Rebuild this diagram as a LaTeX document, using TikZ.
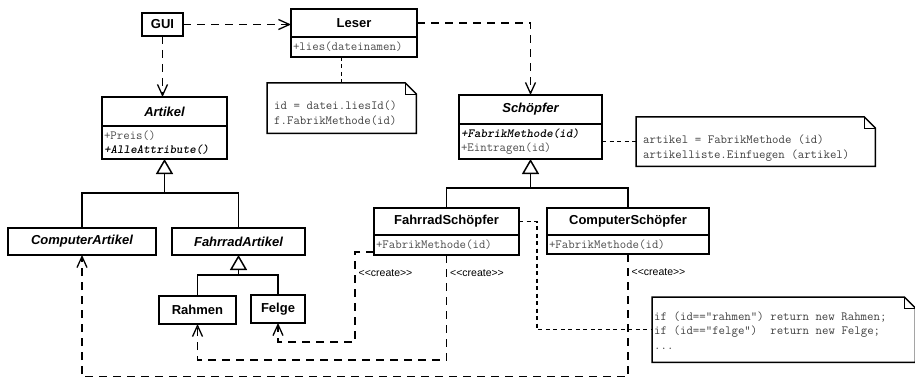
\documentclass[tikz,border=0pt]{standalone}
\usepackage{fontspec}
\setsansfont{Liberation Sans}
\usetikzlibrary{arrows.meta, positioning}

\newcommand{\classfont}{\sffamily\bfseries\fontsize{13}{15}\selectfont}
\newcommand{\methfont}{\ttfamily\fontsize{12.5}{14.5}\selectfont}
\newcommand{\labelfont}{\sffamily\fontsize{10.5}{12}\selectfont}
\newcommand{\abstr}[1]{\textcolor{black}{\textbf{\textit{#1}}}}
% dog-eared outline round a note node
\newcommand{\notefold}[1]{%
  \draw[line width=1.5pt, line join=miter] (#1.north west) -- ([xshift=-11pt]#1.north east)
    -- ([yshift=-11pt]#1.north east) -- (#1.south east) -- (#1.south west) -- cycle;
  \draw[line width=0.6pt] ([xshift=-11pt]#1.north east) |- ([yshift=-11pt]#1.north east);
}

\tikzset{
  umlclass/.style={draw, line width=1.5pt, outer sep=0pt, inner sep=2pt,
    fill=white, font=\classfont, anchor=north west},
  umlmeth/.style={draw, line width=1.5pt, outer sep=0pt, inner xsep=2pt, inner ysep=0pt,
    fill=white, font=\methfont, text=black!70, align=left, text width=#1,
    execute at begin node={\spaceskip=0.525em\relax}},
  umlnote/.style={inner xsep=7pt, inner ysep=0pt, font=\methfont, text=black!75,
    align=left, anchor=north west, execute at begin node={\spaceskip=0.525em\relax}},
  dep/.style={line width=1.3pt, dash pattern=on 8pt off 6pt,
    -{Straight Barb[length=11pt, width=10pt, line width=1.3pt]}},
  notelink/.style={line width=1.5pt, dash pattern=on 4pt off 3.5pt},
  inherit/.style={line width=1.5pt, -{Triangle[open, length=15pt, width=17pt]}},
  create/.style={font=\labelfont, right, inner sep=3pt}
}

\begin{document}
\begin{tikzpicture}[x=1pt, y=-1pt]
  \useasboundingbox (0,0) rectangle (915,377);

  % classes
  \node[umlclass, minimum width=41pt, minimum height=23pt] (gui) at (142,13) {GUI};
  \node[umlclass, minimum width=126pt, minimum height=28pt] (les) at (291,9) {Leser};
  \node[umlmeth=122pt, minimum height=20pt, below=0pt of les] (lesm) {+lies(dateinamen)};

  \node[umlclass, minimum width=125pt, minimum height=29pt] (art) at (102,97) {\itshape Artikel};
  \node[umlmeth=121pt, minimum height=33pt, below=0pt of art] (artm)
    {+Preis()\\\abstr{+AlleAttribute()}};
  \node[umlclass, minimum width=148pt, minimum height=27pt] (carti) at (8,228) {\itshape ComputerArtikel};
  \node[umlclass, minimum width=133pt, minimum height=27pt] (farti) at (172,228) {\itshape FahrradArtikel};
  \node[umlclass, minimum width=77pt, minimum height=28pt] (rahmen) at (159,296) {Rahmen};
  \node[umlclass, minimum width=54pt, minimum height=28pt] (felge) at (251,295) {Felge};

  \node[umlclass, minimum width=143pt, minimum height=29pt] (sch) at (459,95) {\itshape Schöpfer};
  \node[umlmeth=139pt, minimum height=35pt, below=0pt of sch] (schm)
    {\abstr{+FabrikMethode(id)}\\+Eintragen(id)};
  \node[umlclass, minimum width=145pt, minimum height=27pt] (fsch) at (374,208) {FahrradSchöpfer};
  \node[umlmeth=141pt, minimum height=20pt, below=0pt of fsch] (fschm) {+FabrikMethode(id)};
  \node[umlclass, minimum width=162pt, minimum height=27pt] (csch) at (547,208) {ComputerSchöpfer};
  \node[umlmeth=158pt, minimum height=19pt, below=0pt of csch] (cschm) {+FabrikMethode(id)};

  % notes
  \node[umlnote, minimum width=149pt, text width=135pt, text height=26.5pt, text depth=23.5pt]
    (lesnote) at (267,83) {id = datei.liesId()\\f.FabrikMethode(id)};
  \notefold{lesnote}
  \node[umlnote, minimum width=239pt, text width=225pt, text height=26.5pt, text depth=22.5pt]
    (schnote) at (636,117) {artikel = FabrikMethode (id)\\artikelliste.Einfuegen (artikel)};
  \notefold{schnote}
  \node[umlnote, inner xsep=2pt, minimum width=263pt, text width=259pt, text height=23pt, text depth=42pt]
    (bignote) at (652,297)
    {if (id=="rahmen") return new Rahmen;\\if (id=="felge")\ \ return new Felge;\\...};
  \notefold{bignote}

  % dependencies
  \draw[dep] (gui.east) -- (gui.east -| les.west);
  \draw[dep] (gui.south) -- (gui.south |- art.north);
  \draw[dep] (les.east) -| (sch.north);

  % note links
  \draw[notelink] (lesm.south -| lesnote.north) -- (lesnote.north);
  \draw[notelink] (schm.east) -- (schm.east -| schnote.west);
  \draw[notelink] (fsch.east) -- ++(18,0) |- (bignote.west);

  % generalisation
  \coordinate (jart) at ([yshift=-34pt]artm.south);
  \draw[inherit] (jart) -- (artm.south);
  \draw[line width=1.5pt] (carti.north) |- (jart) -| (farti.north);
  \coordinate (jfa) at ([yshift=-20pt]farti.south);
  \draw[inherit] (jfa) -- (farti.south);
  \draw[line width=1.5pt] (rahmen.north) |- (jfa) -| (felge.north);
  \coordinate (jsch) at ([yshift=-29pt]schm.south);
  \draw[inherit] (jsch) -- (schm.south);
  \draw[line width=1.5pt] (fsch.north) |- (jsch) -| (csch.north);

  % create
  \draw[dep] ([yshift=3pt]fschm.south west) -- ++(-19,0)
    -- node[create, pos=0.23] (crfelge) {<{}<create>{}>} ++(0,90) -| (felge.south);
  \draw[dep] (fschm.south) -- node[create, pos=0.17] (crrahmen) {<{}<create>{}>} ++(0,105)
    -| (rahmen.south);
  \draw[dep] (cschm.south) -- node[create, pos=0.15] (crcomp) {<{}<create>{}>} ++(0,123)
    -| (carti.south);
\end{tikzpicture}
\end{document}
